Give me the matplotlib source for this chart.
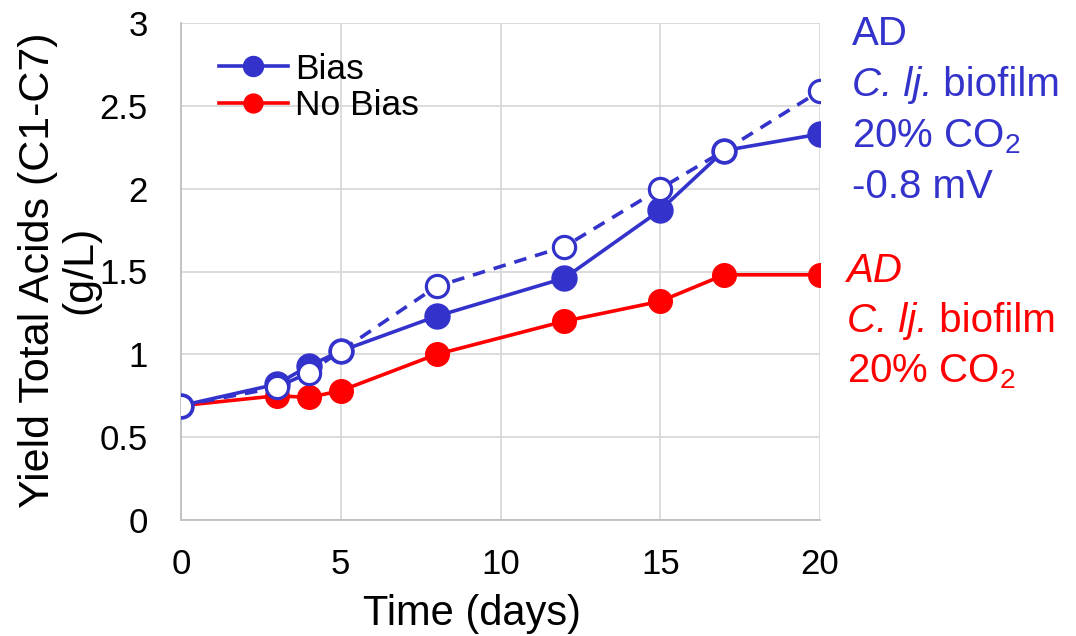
import matplotlib
matplotlib.use("Agg")
import matplotlib.pyplot as plt

# days sampled
days = [0, 3, 4, 5, 8, 12, 15, 17, 20]

# yields in g/L
bias = [0.69, 0.82, 0.93, 1.02, 1.23, 1.46, 1.87, 2.23, 2.33]
bias_dup = [0.69, 0.80, 0.89, 1.02, 1.41, 1.65, 2.00, 2.23, 2.59]
no_bias = [0.69, 0.75, 0.74, 0.78, 1.00, 1.20, 1.32, 1.48, 1.48]

xticks = [0, 5, 10, 15, 20]
yticks = [0, 0.5, 1, 1.5, 2, 2.5, 3]

BLUE = "#3333CC"
RED = "#FF0000"

plt.rcParams["font.family"] = ["Liberation Sans", "DejaVu Sans"]
plt.rcParams["mathtext.fontset"] = "custom"
plt.rcParams["mathtext.rm"] = "Liberation Sans"
plt.rcParams["mathtext.it"] = "Liberation Sans:italic"

W, H = 1076, 636
fig = plt.figure(figsize=(W / 100, H / 100), dpi=100)
ax = fig.add_axes([181 / W, 1 - 520 / H, 639 / W, 497 / H])

ax.plot(days, no_bias, color=RED, lw=2.6, marker="o", ms=17,
        mfc=RED, mec=RED, label="No Bias", zorder=3)
ax.plot(days, bias, color=BLUE, lw=2.6, marker="o", ms=18,
        mfc=BLUE, mec=BLUE, label="Bias", zorder=4)
ax.plot(days, bias_dup, color=BLUE, lw=2.6, ls=(0, (3.5, 2.5)), marker="o",
        ms=16, mfc="white", mec=BLUE, mew=2.3, zorder=5)

ax.set_xlim(0, 20)
ax.set_ylim(0, 3)
ax.set_xticks(xticks)
ax.set_yticks(yticks)
ax.set_yticklabels(["0", "0.5", "1", "1.5", "2", "2.5", "3"])
ax.tick_params(axis="both", length=0, labelsize=25)
ax.tick_params(axis="y", pad=24)
ax.tick_params(axis="x", pad=20)
ax.grid(True, color="#D9D9D9", lw=1.3)
ax.set_axisbelow(True)
for s in ["top", "right"]:
    ax.spines[s].set_visible(False)
for s in ["left", "bottom"]:
    ax.spines[s].set_color("#BFBFBF")
    ax.spines[s].set_linewidth(1.3)

fig.text(472 / W, 1 - 625 / H, "Time (days)", fontsize=30,
         ha="center", va="baseline")

fig.text(59 / W, 1 - 270 / H, "Yield Total Acids (C1-C7)\n(g/L)",
         rotation=90, ha="center", va="center", fontsize=31,
         linespacing=1.07)

h, l = ax.get_legend_handles_labels()
ax.legend([h[1], h[0]], [l[1], l[0]], loc="upper left",
          bbox_to_anchor=(0.02, 0.99), frameon=False, fontsize=25.5,
          handlelength=1.95, handletextpad=0.2, labelspacing=0.1,
          markerscale=0.8, borderpad=0.2)

renderer = fig.canvas.get_renderer()


def note(x, y, parts, color):
    # parts: list of (text, italic) drawn one after the other on a line
    for txt, ital in parts:
        t = fig.text(x / W, 1 - y / H, txt, color=color, fontsize=29,
                     ha="left", va="baseline",
                     fontstyle="italic" if ital else "normal")
        x = t.get_window_extent(renderer).x1


blue_notes = [
    [("AD", False)],
    [("C. lj.", True), (" biofilm", False)],
    [(r"20% CO$_2$", False)],
    [("-0.8 mV", False)],
]
blue_y = [45, 96, 147, 198]
for parts, y in zip(blue_notes, blue_y):
    note(852, y, parts, BLUE)

red_notes = [
    [("AD", True)],
    [("C. lj.", True), (" biofilm", False)],
    [(r"20% CO$_2$", False)],
]
red_y = [282, 332, 382]
for parts, y in zip(red_notes, red_y):
    note(847, y, parts, RED)

fig.savefig("out.png", dpi=100)
